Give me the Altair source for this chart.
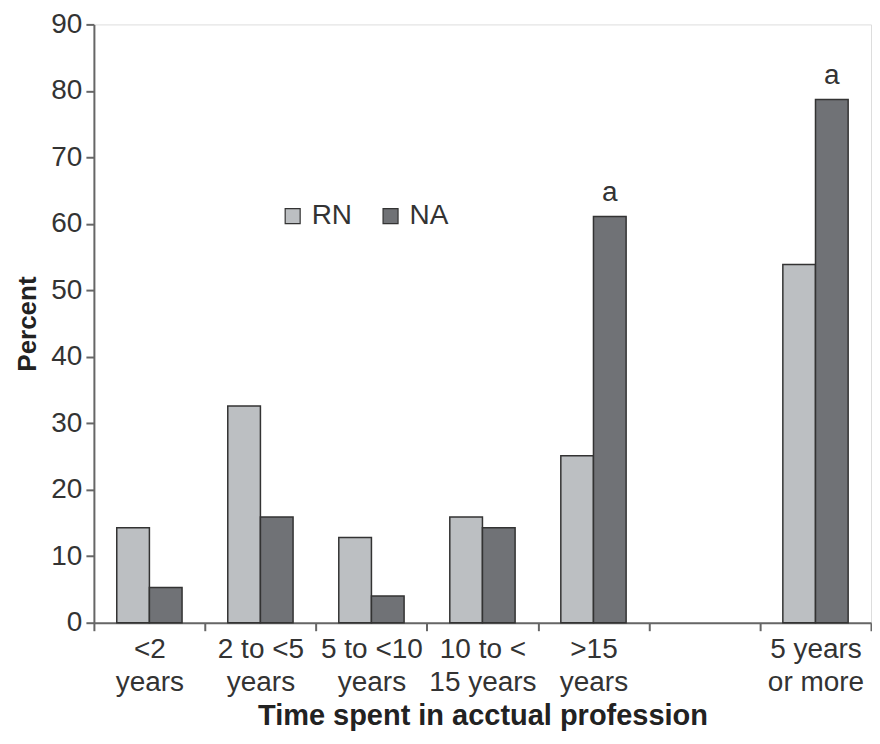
import altair as alt
import pandas as pd

categories = ["<2|years", "2 to <5|years", "5 to <10|years", "10 to <|15 years", ">15|years", " ", "5 years|or more"]
data_categories = ["<2|years", "2 to <5|years", "5 to <10|years", "10 to <|15 years", ">15|years", "5 years|or more"]
rn_values = [14.3, 32.6, 12.8, 15.9, 25.1, 53.9]
na_values = [5.3, 15.9, 4.0, 14.3, 61.1, 78.7]
groups = ["RN", "NA"]
annot_categories = [">15|years", "5 years|or more"]
annot_values = [61.1, 78.7]
annot_text = ["a", "a"]

rows = []
for c, r, n in zip(data_categories, rn_values, na_values):
    rows.append({"cat": c, "group": "RN", "value": r})
    rows.append({"cat": c, "group": "NA", "value": n})
df = pd.DataFrame(rows)
ann = pd.DataFrame({"cat": annot_categories, "group": ["NA", "NA"], "value": annot_values, "text": annot_text})

FONT = "Liberation Sans"
FS = 28

x_enc = alt.X("cat:N", sort=categories,
              scale=alt.Scale(domain=categories, paddingInner=0, paddingOuter=0),
              axis=alt.Axis(title="Time spent in acctual profession", labelExpr="split(datum.label, '|')",
                            labelAngle=0, tickBand="extent", labelFontSize=FS, labelLineHeight=33,
                            labelColor="#333", labelFont=FONT, labelPadding=5,
                            titleFont=FONT, titleFontSize=29, titleFontWeight="bold", titleColor="#222",
                            titlePadding=5, domainColor="#666", tickColor="#666", tickSize=8,
                            domainWidth=2, tickWidth=2))
xoff = alt.XOffset("group:N", sort=groups, scale=alt.Scale(domain=groups, paddingOuter=0.7, paddingInner=0))
y_enc = alt.Y("value:Q", scale=alt.Scale(domain=[0, 90], nice=False),
              axis=alt.Axis(title="Percent", values=list(range(0, 91, 10)), grid=False,
                            labelFontSize=FS, labelColor="#333", labelFont=FONT, labelPadding=4,
                            titleFont=FONT, titleFontSize=26, titleFontWeight="bold", titleColor="#222",
                            titlePadding=10, domainColor="#666", tickColor="#666", tickSize=8,
                            domainWidth=2, tickWidth=2))

bars = alt.Chart(df).mark_bar(stroke="#333", strokeWidth=1.5).encode(
    x=x_enc, xOffset=xoff, y=y_enc,
    color=alt.Color("group:N", sort=groups,
                    scale=alt.Scale(domain=groups, range=["#bcbfc2", "#707276"]),
                    legend=alt.Legend(title=None, orient="none", legendX=185, legendY=178,
                                      direction="horizontal", symbolType="square", symbolSize=225,
                                      symbolStrokeColor="#333", symbolStrokeWidth=1.2,
                                      labelFontSize=FS, labelFont=FONT, labelColor="#333",
                                      columnPadding=24, labelOffset=5))
)

text = alt.Chart(ann).mark_text(dy=-24, fontSize=FS, font=FONT, color="#333").encode(
    x=alt.X("cat:N", sort=categories, scale=alt.Scale(domain=categories)),
    xOffset=alt.XOffset("group:N", sort=groups, scale=alt.Scale(domain=groups)),
    y="value:Q", text="text:N"
)

chart = alt.layer(bars, text).properties(width=778, height=599, padding={"left": 6, "top": 2, "right": 0, "bottom": 0}).configure_view(stroke=None).configure(background="white")

chart.save("out.html", embed_options={"renderer": "svg", "actions": False})
